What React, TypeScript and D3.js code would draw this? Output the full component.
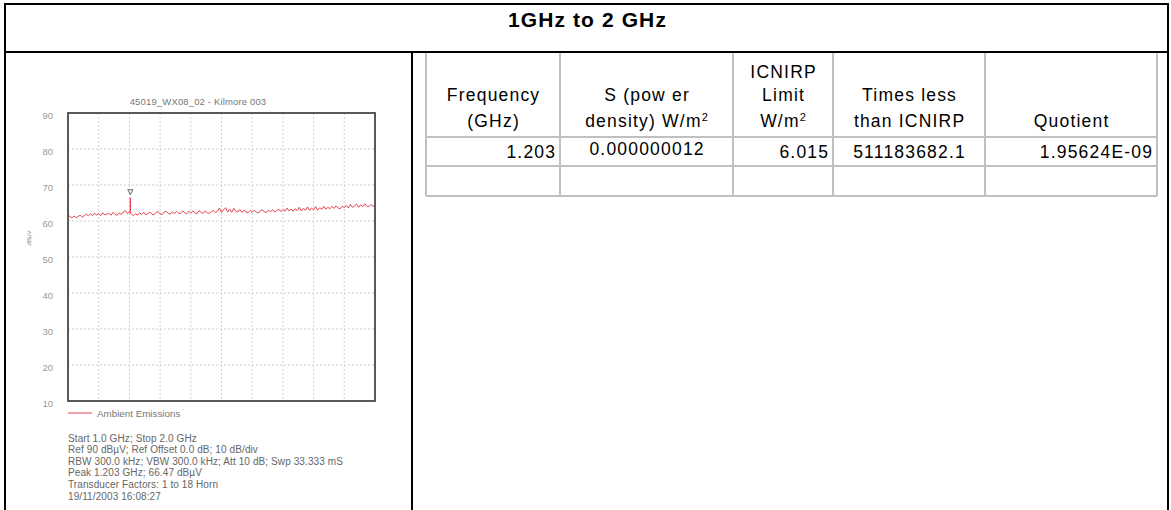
import React from "react";
import * as d3 from "d3";

// ---------- data ----------
const pageTitle = "1GHz to 2 GHz";
const chartTitle = "45019_WX08_02 - Kilmore 003";
const yTicks = [90, 80, 70, 60, 50, 40, 30, 20, 10];
const xGridGHz = [1.0, 1.1, 1.2, 1.3, 1.4, 1.5, 1.6, 1.7, 1.8, 1.9, 2.0];
const startGHz = 1.0;
const stopGHz = 2.0;
const peakGHz = 1.203;
const peakLevel = 66.47;
// Ambient emissions trace (dBµV), evenly spaced from 1.0 to 2.0 GHz
const traceLevels = [
  61.7, 61.2, 60.9, 61.4, 60.9, 61.3, 61.6, 61.1, 61.5, 61.9,
  61.4, 62.0, 61.5, 62.2, 61.6, 62.1, 61.5, 62.3, 61.7, 61.9,
  62.2, 61.6, 62.4, 61.8, 61.6, 62.3, 61.8, 62.5, 62.9, 62.1,
  62.6, 61.9, 61.5, 62.0, 61.6, 62.3, 61.8, 62.4, 61.7, 62.1,
  62.5, 61.9, 61.7, 62.4, 62.6, 62.0, 61.8, 62.5, 62.7, 62.1,
  61.9, 62.6, 62.0, 62.7, 62.2, 62.1, 62.8, 62.3, 62.0, 62.7,
  62.2, 62.8, 62.3, 62.0, 62.9, 62.4, 62.1, 62.8, 62.3, 62.1,
  62.6, 62.9, 62.3, 62.7, 63.6, 62.4, 63.1, 63.7, 62.5, 63.3,
  62.4, 63.5, 62.7, 62.5, 63.2, 62.4, 63.0, 62.5, 62.3, 62.9,
  62.4, 63.0, 62.5, 62.2, 62.9, 63.1, 62.5, 62.4, 63.0, 62.6,
  63.1, 62.5, 62.9, 63.3, 62.6, 63.2, 62.7, 63.6, 62.8, 63.3,
  62.7, 63.4, 62.9, 63.8, 62.8, 63.5, 63.0, 63.9, 62.9, 63.6,
  63.1, 64.0, 63.0, 63.7, 63.2, 64.1, 63.3, 63.8, 63.4, 64.1,
  63.5, 64.2, 63.6, 63.4, 64.1, 63.7, 64.3, 63.6, 64.6, 63.8,
  64.2, 64.7, 63.8, 64.5, 63.9, 64.8, 64.1, 64.0, 64.6, 64.1, 64.4,
];
const legendLabel = "Ambient Emissions";
const infoLines = [
  "Start 1.0 GHz; Stop 2.0 GHz",
  "Ref 90 dBµV; Ref Offset 0.0 dB; 10 dB/div",
  "RBW 300.0 kHz; VBW 300.0 kHz; Att 10 dB; Swp 33.333 mS",
  "Peak 1.203 GHz; 66.47 dBµV",
  "Transducer Factors: 1 to 18 Horn",
  "19/11/2003 16:08:27",
];

// table
const headerLines: string[][] = [
  ["Frequency", "(GHz)"],
  ["S (pow er", "density) W/m²"],
  ["ICNIRP", "Limit", "W/m²"],
  ["Times less", "than ICNIRP"],
  ["Quotient"],
];
const dataRow = ["1.203", "0.000000012", "6.015", "511183682.1", "1.95624E-09"];
const dataAlign = ["end", "middle", "end", "middle", "end"];

// ---------- layout ----------
const W = 1171;
const H = 510;
const colEdges = [426, 560, 733, 833, 985, 1157];
const rowEdges = [52, 137, 166, 196];

const FONT = "'Liberation Sans', Arial, sans-serif";
const TFS = 17.5;
const TLS = 1.2;

function renderLine(text: string, x: number, y: number, anchor: string, key: string) {
  const dx = anchor === "end" ? TLS : anchor === "middle" ? TLS / 2 : 0;
  if (text.includes("²")) {
    const [a, b] = text.split("²");
    return (
      <text key={key} x={x + dx} y={y} textAnchor={anchor} fontFamily={FONT} fontSize={TFS} letterSpacing={TLS} fill="#000">
        {a}
        <tspan fontSize={11} dy={-6}>2</tspan>
        <tspan dy={6}>{b}</tspan>
      </text>
    );
  }
  return (
    <text key={key} x={x + dx} y={y} textAnchor={anchor} fontFamily={FONT} fontSize={TFS} letterSpacing={TLS} fill="#000">
      {text}
    </text>
  );
}

export default function App() {
  const x = d3.scaleLinear().domain([startGHz, stopGHz]).range([68, 375]);
  const y = d3.scaleLinear().domain([10, 90]).range([401, 113]);
  const idx = d3.scaleLinear().domain([0, traceLevels.length - 1]).range([startGHz, stopGHz]);

  const pts: [number, number][] = traceLevels.map((v, i) => [idx(i), v]);
  pts.push([peakGHz - 0.0008, 62.3]);
  pts.push([peakGHz, peakLevel]);
  pts.push([peakGHz + 0.0008, 62.2]);
  pts.sort((a, b) => a[0] - b[0]);

  const line = d3
    .line<[number, number]>()
    .x((d) => x(d[0]))
    .y((d) => y(d[1]));

  const px = x(peakGHz);
  const py = y(peakLevel);

  const lineBaselines = [78, 101, 127];

  return (
    <div style={{ position: "fixed", left: 0, top: 0 }}>
      <svg width={W} height={H} style={{ display: "block", background: "#fff" }}>
        {/* outer frame */}
        <line x1={5} x2={5} y1={3} y2={H} stroke="#000" strokeWidth={2} />
        <line x1={1168} x2={1168} y1={3} y2={H} stroke="#000" strokeWidth={2} />
        <line x1={4} x2={1169} y1={4} y2={4} stroke="#000" strokeWidth={2} />
        <line x1={4} x2={1169} y1={52} y2={52} stroke="#000" strokeWidth={2} />
        <line x1={412} x2={412} y1={52} y2={H} stroke="#000" strokeWidth={2} />
        <text x={587.5} y={27} textAnchor="middle" fontFamily={FONT} fontWeight="bold" fontSize={21} letterSpacing={1.1}>
          {pageTitle}
        </text>

        {/* table */}
        <g stroke="#c0c0c0" strokeWidth={2}>
          {colEdges.map((cx, i) => (
            <line key={"c" + i} x1={cx} x2={cx} y1={53} y2={rowEdges[rowEdges.length - 1]} />
          ))}
          {rowEdges.slice(1).map((ry, i) => (
            <line key={"r" + i} x1={colEdges[0]} x2={colEdges[colEdges.length - 1]} y1={ry} y2={ry} />
          ))}
        </g>
        {headerLines.map((lines, c) => {
          const cx = (colEdges[c] + colEdges[c + 1]) / 2;
          const offset = 3 - lines.length;
          return lines.map((t, j) => renderLine(t, cx, lineBaselines[offset + j], "middle", `h${c}-${j}`));
        })}
        {dataRow.map((t, c) => {
          const a = dataAlign[c];
          const tx = a === "end" ? colEdges[c + 1] - 5 : (colEdges[c] + colEdges[c + 1]) / 2;
          const ty = c === 1 ? 155 : 158;
          return renderLine(t, tx, ty, a, "d" + c);
        })}

        {/* spectrum chart */}
        <text x={198} y={105} textAnchor="middle" fontFamily={FONT} fontSize={9.5} letterSpacing={0.15} fill="#777">
          {chartTitle}
        </text>
        <g>
          {yTicks.map((t) => (
            <line key={"gy" + t} x1={x(startGHz)} x2={x(stopGHz)} y1={y(t)} y2={y(t)} stroke="#d0d0d0" strokeWidth={1} strokeDasharray="2,2" />
          ))}
          {xGridGHz.map((g) => (
            <line key={"gx" + g} x1={x(g)} x2={x(g)} y1={y(90)} y2={y(10)} stroke="#d0d0d0" strokeWidth={1} strokeDasharray="2,2" />
          ))}
          {yTicks.map((t) => (
            <text key={"ty" + t} x={53} y={y(t) + 6} textAnchor="end" fontFamily={FONT} fontSize={9.5} fill="#999">
              {t}
            </text>
          ))}
        </g>
        <text
          transform={`translate(31,238) rotate(-90)`}
          textAnchor="middle"
          fontFamily={FONT}
          fontSize={6}
          fill="#888"
        >
          dBµV
        </text>
        <path d={line(pts) || ""} fill="none" stroke="#e8454f" strokeWidth={1} />
        <path
          d={`M${px - 2.5},${py - 8} L${px + 2.5},${py - 8} L${px},${py - 3} Z`}
          fill="#fff"
          stroke="#666"
          strokeWidth={1}
        />
        <rect x={x(startGHz)} y={y(90)} width={x(stopGHz) - x(startGHz)} height={y(10) - y(90)} fill="none" stroke="#4a4a4a" strokeWidth={1.8} />

        {/* legend */}
        <line x1={68} x2={92} y1={413} y2={413} stroke="#e8454f" strokeWidth={1} />
        <text x={97} y={416.5} fontFamily={FONT} fontSize={9.8} fill="#777">
          {legendLabel}
        </text>
        {infoLines.map((t, i) => (
          <text key={"i" + i} x={68} y={441.5 + i * 11.6} fontFamily={FONT} fontSize={10} letterSpacing={0.1} fill="#666">
            {t}
          </text>
        ))}
      </svg>
    </div>
  );
}
